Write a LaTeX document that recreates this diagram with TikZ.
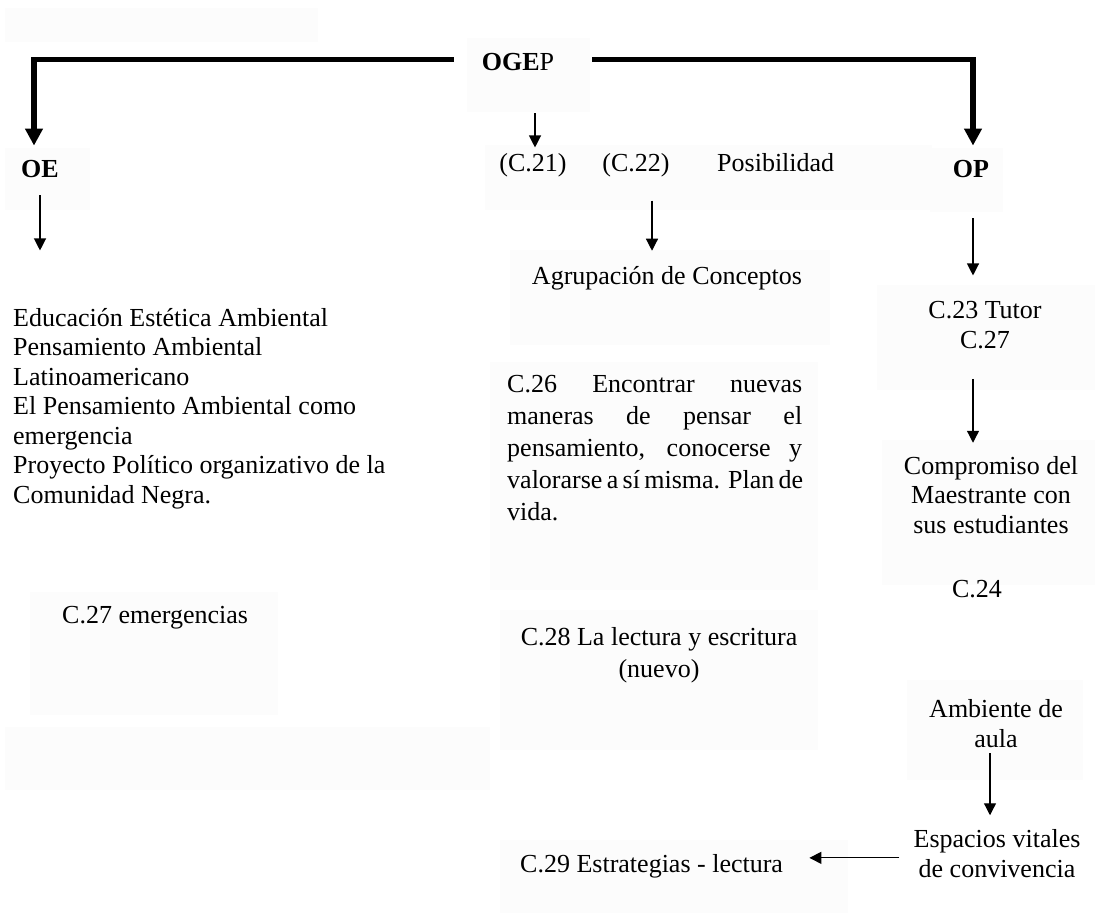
\documentclass[tikz,border=0pt]{standalone}
\usepackage{fontspec}
\setmainfont{Liberation Serif}
\usetikzlibrary{arrows.meta,calc}
\begin{document}
\begin{tikzpicture}[x=1pt,y=-1pt,
  txt/.style={inner sep=0pt, font=\fontsize{26}{29.5}\selectfont},
  hdr/.style={inner sep=0pt, font=\fontsize{26}{29.5}\selectfont\bfseries},
  panel/.style={fill=black!1, draw=none},
  thickarrow/.style={line width=5.5pt, -{Triangle[length=17pt,width=17pt]}},
  thinarrow/.style={line width=1.2pt, -{Triangle[length=12pt,width=12pt]}},
]
\useasboundingbox (0,0) rectangle (1100,913);

% faint background panels behind the text blocks
\fill[panel] (5,8) rectangle (318,42);
\fill[panel] (467,38) rectangle (590,112);
\fill[panel] (5,148) rectangle (90,210);
\fill[panel] (485,145) rectangle (932,210);
\fill[panel] (930,148) rectangle (1003,212);
\fill[panel] (510,250) rectangle (830,345);
\fill[panel] (490,362) rectangle (818,590);
\fill[panel] (500,610) rectangle (818,750);
\fill[panel] (877,285) rectangle (1095,390);
\fill[panel] (882,440) rectangle (1095,585);
\fill[panel] (30,592) rectangle (278,715);
\fill[panel] (5,727) rectangle (490,790);
\fill[panel] (907,680) rectangle (1083,780);
\fill[panel] (500,840) rectangle (848,913);

% text blocks (multi-line blocks are placed by the baseline of their last line)
\node[hdr, anchor=base] (ogep) at (518,70) {OGE\textmd{P}};
\node[hdr, anchor=base] (oe) at (40,177) {OE};
\node[hdr, anchor=base] (op) at (971,177) {OP};
\node[txt, anchor=base] (c21) at (533,171) {(C.21)};
\node[txt, anchor=base] (c22) at (636,171) {(C.22)};
\node[txt, anchor=base west] (pos) at (717,171) {Posibilidad};
\node[txt, anchor=base] (agr) at (667,284) {Agrupación de Conceptos};

\node[txt, align=left, anchor=base west] (edu) at (13,503)
  {Educación Estética Ambiental\\
   Pensamiento Ambiental\\
   Latinoamericano\\
   El Pensamiento Ambiental como\\
   emergencia\\
   Proyecto Político organizativo de la\\
   Comunidad Negra.};
\node[txt, anchor=base west] (emer) at (62,623) {C.27 emergencias};

\node[txt, align=left, anchor=base west] (c26) at (507,520)
  {\makebox[295pt][s]{C.26 Encontrar nuevas}\\[2.5pt]
   \makebox[295pt][s]{maneras de pensar el}\\[2.5pt]
   \makebox[295pt][s]{pensamiento, conocerse y}\\[2.5pt]
   \makebox[295pt][s]{valorarse a sí misma. Plan de}\\[2.5pt]
   vida.};
\node[txt, align=center, anchor=base] (c28) at (659,677)
  {C.28 La lectura y escritura\\[2.5pt](nuevo)};
\node[txt, anchor=base west] (c29) at (520,872) {C.29 Estrategias - lectura};

\node[txt, align=center, anchor=base] (tutor) at (985,348) {C.23 Tutor\\C.27};
\node[txt, align=center, anchor=base] (comp) at (991,533)
  {Compromiso del\\Maestrante con\\sus estudiantes};
\node[txt, anchor=base] (c24) at (977,597) {C.24};
\node[txt, align=center, anchor=base] (amb) at (996,747) {Ambiente de\\aula};
\node[txt, align=center, anchor=base] (esp) at (997,877) {Espacios vitales\\de convivencia};

% main branches
\draw[thickarrow] ([shift={(-28pt,2pt)}]ogep.west) -| ([shift={(-6pt,14pt)}]oe.north);
\draw[thickarrow] ([shift={(38pt,2pt)}]ogep.east) -| ([shift={(2pt,14pt)}]op.north);

% thin connectors
\draw[thinarrow] ($(oe.south)+(0,-18pt)$) -- ($(oe.south)+(0,-73pt)$);
\draw[thinarrow] ($(ogep.south -| c21)+(2pt,-43pt)$) -- ($(ogep.south -| c21)+(2pt,-77pt)$);
\draw[thinarrow] ($(c22.south)+(16pt,-24pt)$) -- ($(c22.south)+(16pt,-74pt)$);
\draw[thinarrow] ($(op.south)+(2pt,-41pt)$) -- ($(op.south)+(2pt,-98pt)$);
\draw[thinarrow] ($(comp.north)+(-18pt,77pt)$) -- ($(comp.north)+(-18pt,13pt)$);
\draw[thinarrow] ($(esp.north)+(-7pt,76pt)$) -- ($(esp.north)+(-7pt,14pt)$);
\draw[thinarrow] ($(esp.west)+(-14pt,-4.5pt)$) -- ($(esp.west)+(-104pt,-4.5pt)$);
\end{tikzpicture}
\end{document}
